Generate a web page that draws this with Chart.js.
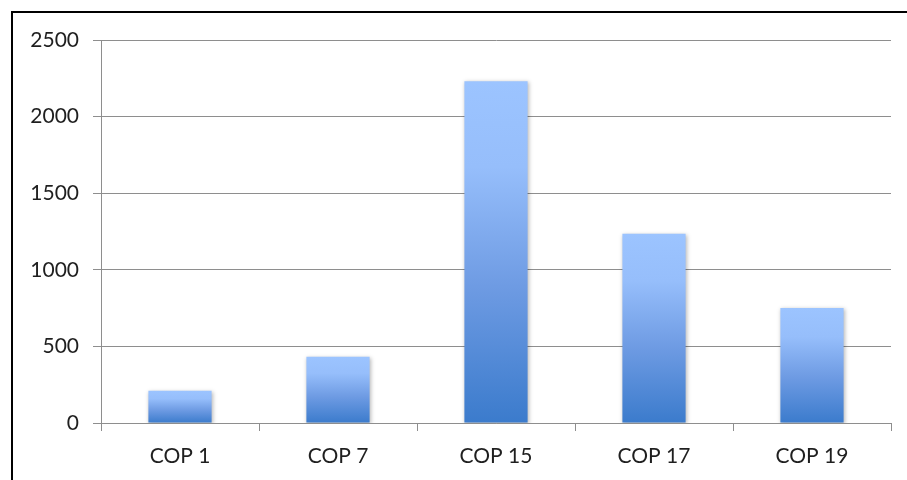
<!DOCTYPE html>
<html>
<head>
<meta charset="utf-8">
<script src="https://cdn.jsdelivr.net/npm/chart.js@4/dist/chart.umd.min.js"></script>
<style>
  html, body { margin: 0; padding: 0; background: #fff; }
  #wrap { width: 907px; height: 480px; position: relative; }
</style>
</head>
<body>
<div id="wrap"><canvas id="c" width="907" height="480"></canvas></div>
<script>
// Delegates per Conference of the Parties session
const categories = ['COP 1', 'COP 7', 'COP 15', 'COP 17', 'COP 19'];
const values = [211, 432, 2230, 1236, 750];
const yTicks = [0, 500, 1000, 1500, 2000, 2500];

const textColor = '#1f1f1f';
const gridColor = '#8e8e8e';
const font = { family: 'Lato', size: 21 };

// Vertical gradient spanning each bar from its top down to the baseline
function barGradient(ctx) {
  const chart = ctx.chart;
  if (!chart.chartArea) return '#7aa6ee';
  const y = chart.scales.y;
  const top = y.getPixelForValue(ctx.raw);
  const base = y.getPixelForValue(0);
  const g = chart.ctx.createLinearGradient(0, top, 0, base);
  g.addColorStop(0, '#9cc4ff');
  g.addColorStop(0.25, '#96befb');
  g.addColorStop(0.6, '#6e9be3');
  g.addColorStop(1, '#3b7bcc');
  return g;
}

// White page with the frame's top and left edges
const frame = {
  id: 'frame',
  beforeDraw(chart) {
    const c = chart.ctx;
    c.save();
    c.fillStyle = '#fff';
    c.fillRect(0, 0, chart.width, chart.height);
    c.fillStyle = '#000';
    c.fillRect(11, 11, chart.width - 11, 2);
    c.fillRect(11, 11, 2, chart.height - 11);
    c.restore();
  }
};

// Soft drop shadow under the bars
const barShadow = {
  id: 'barShadow',
  beforeDatasetsDraw(chart) {
    const c = chart.ctx;
    c.save();
    c.shadowColor = 'rgba(0,0,0,0.28)';
    c.shadowBlur = 4;
    c.shadowOffsetX = 1;
    c.shadowOffsetY = 1;
  },
  afterDatasetsDraw(chart) {
    chart.ctx.restore();
  }
};

new Chart(document.getElementById('c'), {
  type: 'bar',
  data: {
    labels: categories,
    datasets: [{
      data: values,
      backgroundColor: barGradient,
      borderWidth: 0,
      barPercentage: 0.4,
      categoryPercentage: 1
    }]
  },
  options: {
    responsive: false,
    animation: false,
    devicePixelRatio: 1,
    layout: { padding: { top: 40, right: 16, bottom: 0, left: 0 } },
    plugins: { legend: { display: false }, tooltip: { enabled: false } },
    scales: {
      x: {
        grid: {
          offset: true,
          drawOnChartArea: false,
          drawTicks: true,
          tickLength: 8,
          color: gridColor,
          lineWidth: 1
        },
        border: { color: gridColor, width: 1 },
        ticks: { color: textColor, font: font, padding: 13, maxRotation: 0 },
        afterFit(s) { s.height = 57; }
      },
      y: {
        min: 0,
        max: 2500,
        afterBuildTicks(s) { s.ticks = yTicks.map(v => ({ value: v })); },
        grid: { color: gridColor, lineWidth: 1, tickLength: 8 },
        border: { color: gridColor, width: 1 },
        ticks: { color: textColor, font: font, padding: 14, callback: v => String(v) },
        afterFit(s) { s.width = 101; }
      }
    }
  },
  plugins: [frame, barShadow]
});
</script>
</body>
</html>
